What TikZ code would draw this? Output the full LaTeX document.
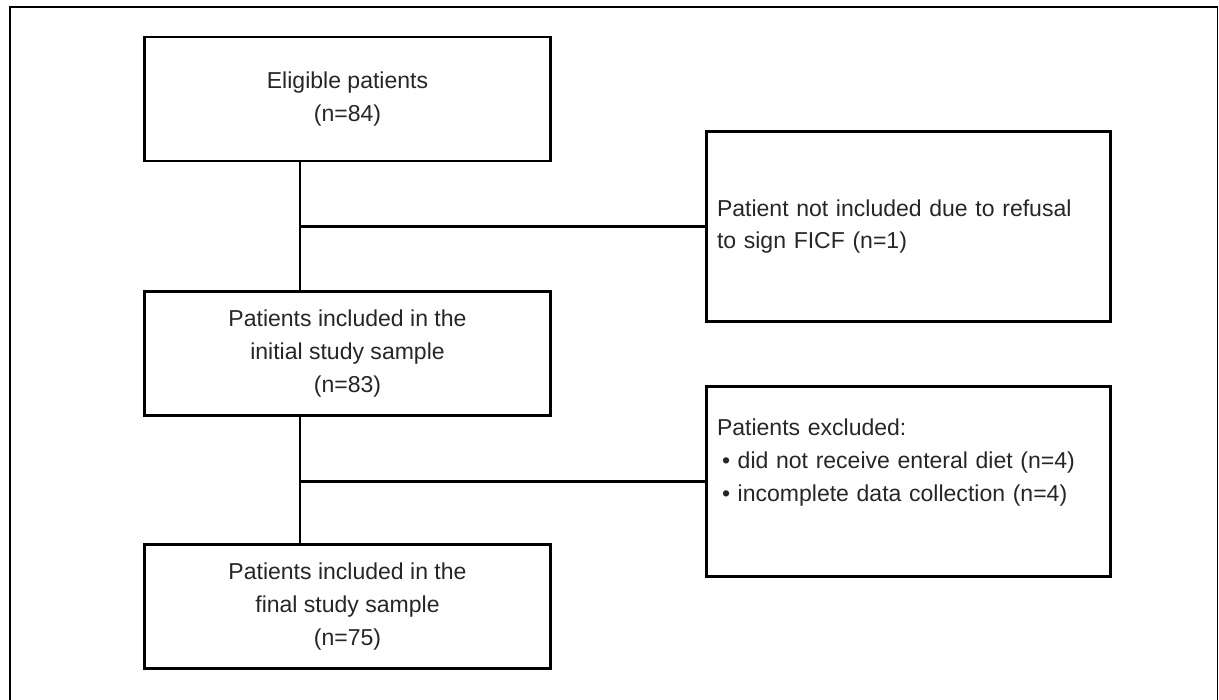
\documentclass[tikz,border=0pt]{standalone}
\usepackage{fontspec}
\setmainfont{Liberation Sans}
\begin{document}
\begin{tikzpicture}[
    boxfont/.style={text=black!85, font=\fontsize{13.1pt}{18.6pt}\selectfont},
    stagebox/.style={draw, line width=1.7pt, boxfont, align=center,
        minimum width=8.12cm, minimum height=2.48cm},
    exclbox/.style={draw, line width=1.7pt, boxfont, align=left,
        text width=7.66cm, inner xsep=0.21cm, minimum height=3.8cm},
    link/.style={line width=1.7pt}
    ]

    % Fix the page size and draw the outer frame
    \useasboundingbox (0, 0) rectangle (24.38, -14);
    \draw[line width=0.8pt] (0.2, -0.14) rectangle (24.35, -14.6);

    % Main flow boxes on the left
    \node[stagebox] (eligible) at (6.95, -1.98) {Eligible patients\\(n=84)};
    \node[stagebox] (initial) at (6.95, -7.07) {Patients included in the\\initial study sample\\(n=83)};
    \node[stagebox] (final) at (6.95, -12.13) {Patients included in the\\final study sample\\(n=75)};

    % Exclusion boxes on the right
    \node[exclbox] (refused) at (18.17, -4.53) {Patient not included due to refusal\\to sign FICF (n=1)};
    \node[exclbox] (excluded) at (18.17, -9.63) {Patients excluded:\\
        \hspace*{0.1cm}\textbullet\ did not receive enteral diet (n=4)\\
        \hspace*{0.1cm}\textbullet\ incomplete data collection (n=4)\\
        \strut};

    % The vertical line runs left of the box centres
    \coordinate (trunk) at (6.0, 0);

    % Vertical connectors
    \draw[link] (eligible.south -| trunk) -- (initial.north -| trunk);
    \draw[link] (initial.south -| trunk) -- (final.north -| trunk);

    % Side branches to the exclusion boxes
    \draw[link] (trunk |- refused.west) -- (refused.west);
    \draw[link] (trunk |- excluded.west) -- (excluded.west);

\end{tikzpicture}
\end{document}
